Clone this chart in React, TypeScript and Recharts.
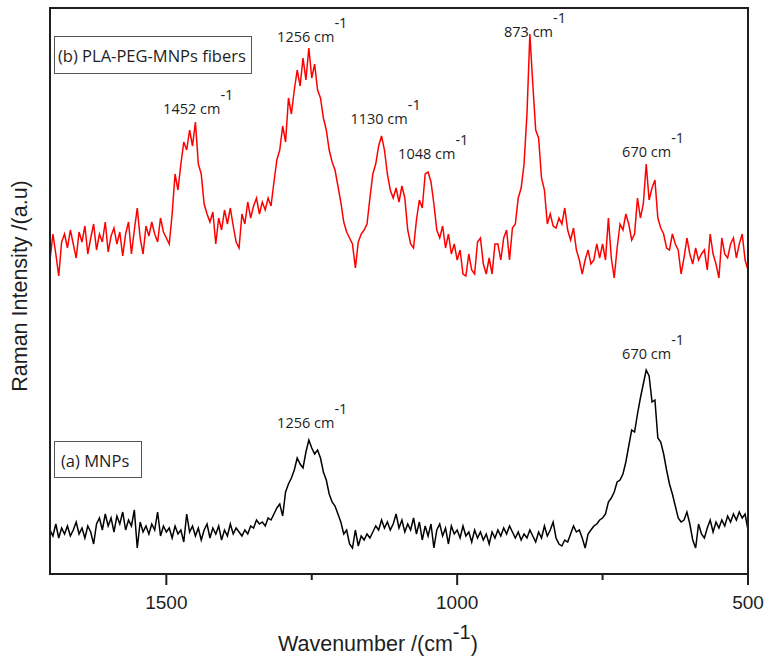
import React from 'react';
import { LineChart, Line, XAxis, YAxis, ReferenceDot } from 'recharts';

// Wavenumber grid (cm^-1): 1700 down to 500, every 5 cm^-1
const WN_START = 1700;
const WN_STEP = 5;

// (b) PLA-PEG-MNPs fibers, intensity in a.u.
const fibersSpectrum = [
  157, 170, 160, 149, 166, 170, 163, 172, 165, 158,
  171, 166, 174, 160, 168, 175, 162, 170, 166, 176,
  161, 169, 173, 165, 171, 159, 170, 176, 160, 172,
  183, 168, 160, 174, 169, 176, 170, 166, 178, 171,
  168, 165, 180, 200, 192, 205, 216, 212, 222, 214,
  226, 205, 200, 185, 180, 176, 181, 165, 178, 172,
  182, 175, 183, 174, 166, 163, 180, 175, 186, 178,
  184, 188, 180, 186, 182, 188, 184, 196, 207, 212,
  224, 216, 238, 230, 242, 252, 244, 258, 247, 263,
  248, 255, 242, 238, 228, 222, 212, 206, 202, 194,
  186, 176, 171, 168, 165, 153, 166, 170, 172, 175,
  188, 200, 205, 214, 219, 212, 200, 192, 188, 193,
  186, 194, 188, 172, 165, 163, 177, 187, 183, 200,
  201, 196, 185, 172, 168, 174, 163, 170, 160, 165,
  157, 162, 150, 149, 160, 152, 150, 166, 168, 155,
  150, 158, 150, 165, 165, 157, 168, 172, 157, 173,
  175, 188, 193, 205, 230, 270, 245, 222, 218, 198,
  192, 175, 180, 174, 173, 178, 175, 183, 172, 167,
  173, 162, 157, 150, 157, 162, 155, 157, 165, 158,
  165, 157, 178, 158, 148, 163, 175, 172, 180, 175,
  167, 170, 188, 178, 185, 205, 187, 193, 197, 178,
  173, 170, 163, 162, 170, 165, 162, 150, 158, 168,
  160, 155, 163, 157, 160, 162, 152, 170, 160, 155,
  148, 168, 160, 158, 165, 168, 158, 165, 170, 157,
  152,
];

// (a) MNPs, intensity in a.u.
const mnpSpectrum = [
  22, 19, 25, 18, 23, 20, 24, 19, 22, 26,
  20, 23, 18, 24, 21, 15, 25, 28, 22, 30,
  24, 28, 21, 29, 25, 31, 22, 27, 24, 32,
  13, 26, 21, 24, 20, 25, 22, 31, 19, 24,
  21, 23, 18, 24, 20, 22, 16, 30, 21, 24,
  19, 23, 17, 22, 25, 18, 23, 20, 24, 17,
  22, 19, 25, 20, 23, 21, 19, 22, 20, 24,
  23, 27, 25, 26, 24, 28, 27, 30, 33, 35,
  29, 41, 45, 48, 52, 58, 55, 53, 61, 67,
  63, 60, 62, 58, 51, 47, 40, 36, 34, 30,
  26, 20, 22, 15, 13, 22, 14, 19, 17, 20,
  18, 21, 24, 22, 27, 23, 26, 22, 25, 30,
  23, 27, 21, 25, 22, 28, 20, 26, 17, 24,
  19, 25, 13, 22, 25, 19, 23, 15, 24, 20,
  22, 18, 24, 19, 21, 16, 22, 18, 21, 17,
  20, 15, 21, 18, 22, 19, 23, 20, 24, 21,
  18, 21, 17, 20, 18, 22, 19, 16, 21, 18,
  24, 19, 22, 26, 18, 15, 14, 17, 16, 20,
  24, 21, 22, 18, 13, 20, 22, 24, 25, 27,
  28, 30, 36, 38, 41, 46, 47, 50, 56, 64,
  72, 71, 80, 88, 95, 102, 99, 86, 87, 68,
  66, 60, 52, 45, 40, 34, 28, 26, 27, 31,
  25, 17, 13, 25, 20, 18, 23, 27, 21, 26,
  23, 27, 24, 29, 26, 30, 27, 31, 28, 30,
  22,
];

const xTicks = [1500, 1250, 1000, 750, 500];
const xTickLabels = ['1500', '', '1000', '', '500'];

// Peak annotations: wavenumber and height (a.u.) of the label baseline
const fiberPeaks = [1452, 1256, 1130, 1048, 873, 670];
const fiberPeakLabelHeights = [230, 266, 225, 207.5, 268.5, 208.5];
const mnpPeaks = [1256, 670];
const mnpPeakLabelHeights = [73, 107.5];

const data = fibersSpectrum.map((v, i) => ({
  wn: WN_START - i * WN_STEP,
  fibers: v,
  mnps: mnpSpectrum[i],
}));

const FONT_AXIS = '"Liberation Sans", Arial, sans-serif';
const FONT_NOTE = '"Open Sans", sans-serif';
const INK = '#1e1e1e';

const AxisTick = (props: any) => {
  const { x, y, payload } = props;
  const idx = xTicks.indexOf(payload.value);
  const label = idx >= 0 ? xTickLabels[idx] : '';
  const major = label !== '';
  return (
    <g>
      <line x1={x} y1={y} x2={x} y2={y + (major ? 11 : 6)} stroke={INK} strokeWidth={2} />
      {major && (
        <text x={x} y={y + 35} textAnchor="middle" fontSize={19} fontFamily={FONT_AXIS} fill={INK}>
          {label}
        </text>
      )}
    </g>
  );
};

const makePeakLabel = (wn: number) => (p: any) => {
  const { cx, cy } = p;
  return (
    <text x={cx + 4} y={cy} textAnchor="middle" fontSize={14.5} fontFamily={FONT_NOTE} fill={INK}>
      {`${wn} cm`}
      <tspan dy={-14}>-1</tspan>
    </text>
  );
};

export default function App() {
  return (
    <div style={{ position: 'absolute', left: 0, top: 0, width: 765, height: 659, background: '#fff', overflow: 'visible' }}>
      <LineChart width={765} height={659} data={data} margin={{ top: 8, right: 17, bottom: 0, left: 50 }} style={{ overflow: 'visible' }}>
        <XAxis
          dataKey="wn"
          type="number"
          domain={[500, 1700]}
          reversed
          ticks={xTicks}
          interval={0}
          height={85}
          tickSize={0}
          tickMargin={0}
          tick={<AxisTick />}
          axisLine={{ stroke: INK, strokeWidth: 2 }}
          allowDataOverflow
        />
        <YAxis type="number" domain={[0, 283]} hide allowDataOverflow />
        <Line type="linear" dataKey="fibers" stroke="#ff0000" strokeWidth={1.5} dot={false} isAnimationActive={false} />
        <Line type="linear" dataKey="mnps" stroke="#000000" strokeWidth={1.5} dot={false} isAnimationActive={false} />
        {fiberPeaks.map((wn, i) => (
          <ReferenceDot key={`f${wn}`} x={wn} y={fiberPeakLabelHeights[i]} r={0} shape={makePeakLabel(wn)} />
        ))}
        {mnpPeaks.map((wn, i) => (
          <ReferenceDot key={`m${wn}`} x={wn} y={mnpPeakLabelHeights[i]} r={0} shape={makePeakLabel(wn)} />
        ))}
      </LineChart>
      <svg width={765} height={659} style={{ position: 'absolute', left: 0, top: 0, pointerEvents: 'none' }}>
        <rect x={50} y={8} width={698} height={566} fill="none" stroke={INK} strokeWidth={2} />
        <rect x={54.5} y={36.5} width={197} height={37} fill="none" stroke="#555" strokeWidth={1} />
        <text x={58} y={62} fontSize={16.5} fontFamily={FONT_NOTE} fill={INK}>(b) PLA-PEG-MNPs fibers</text>
        <rect x={54.5} y={441.5} width={87} height={36} fill="none" stroke="#555" strokeWidth={1} />
        <text x={61} y={467} fontSize={16.5} fontFamily={FONT_NOTE} fill={INK}>(a) MNPs</text>
        <text x={278} y={651} fontSize={21.5} fontFamily={FONT_AXIS} fill={INK}>
          Wavenumber /(cm
          <tspan dy={-12} fontSize={20}>-1</tspan>
          <tspan dy={12}>)</tspan>
        </text>
        <text
          transform="translate(27,286) rotate(-90)"
          textAnchor="middle"
          fontSize={21.5}
          fontFamily={FONT_AXIS}
          fill={INK}
        >
          Raman Intensity /(a.u)
        </text>
      </svg>
    </div>
  );
}
